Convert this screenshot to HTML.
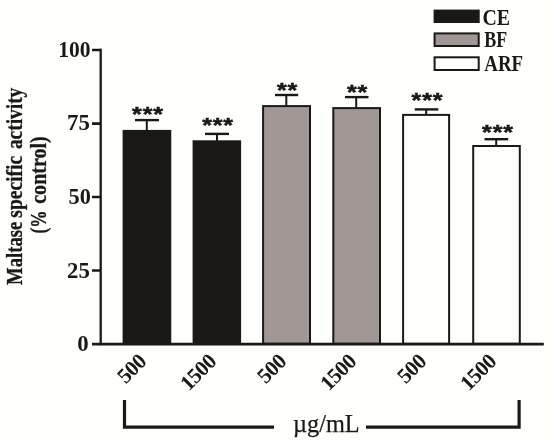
<!DOCTYPE html>
<html><head><meta charset="utf-8"><title>Maltase specific activity</title>
<style>
html,body{margin:0;padding:0;background:#fefefd;}
svg{display:block;}
text{font-family:"Liberation Serif","DejaVu Serif",serif;fill:#1b1915;}
.b{font-weight:bold;}
text.s{font-family:"Liberation Sans","DejaVu Sans",sans-serif;}
</style></head>
<body>
<svg width="550" height="442" viewBox="0 0 550 442">
<rect width="550" height="442" fill="#fefefd"/>
<!-- bars -->
<g stroke="#1b1915" stroke-width="2">
<rect x="123.6" y="130.9" width="46.65" height="212.9" fill="#1b1915"/>
<rect x="193.6" y="141.3" width="46.5" height="202.5" fill="#1b1915"/>
<rect x="263.1" y="106.1" width="46.9" height="237.7" fill="#a19896"/>
<rect x="333.3" y="108.1" width="46.7" height="235.7" fill="#a19896"/>
<rect x="403.1" y="114.9" width="46.0" height="228.9" fill="#fefefd"/>
<rect x="473.2" y="146.0" width="46.6" height="197.8" fill="#fefefd"/>
</g>
<!-- error bars -->
<g stroke="#1b1915" stroke-width="2" fill="none">
<path d="M146.8 131V120.1"/>
<path d="M217 141V133.9"/>
<path d="M286.3 106V95"/>
<path d="M356.2 108V97.1"/>
<path d="M426.2 115V109.4"/>
<path d="M496.2 146V139.2"/>
</g>
<g stroke="#1b1915" stroke-width="2.4" fill="none">
<path d="M135 120.1H159"/>
<path d="M205 133.9H229"/>
<path d="M275 95H298.2"/>
<path d="M345 97.1H368.5"/>
<path d="M414.8 109.4H438.3"/>
<path d="M484.5 139.2H508.2"/>
</g>
<!-- axes -->
<g stroke="#1b1915" stroke-width="2.3" fill="none">
<path d="M100.7 48.7V345"/>
<path d="M100 344.1H543.8" stroke-width="2.8"/>
</g>
<g stroke="#1b1915" stroke-width="2.7" fill="none">
<path d="M92 50H101M92 123.7H101M92 197H101M92 270.5H101M92 344.1H101"/>
</g>
<!-- y tick labels -->
<g class="b" font-size="23.4" text-anchor="end">
<text transform="translate(90.6,56.6) scale(0.955,1)" font-size="22.6">100</text>
<text transform="translate(89.8,130.2) scale(0.975,1)">75</text>
<text transform="translate(90.8,204.1) scale(0.975,1)" font-size="22.9">50</text>
<text transform="translate(89.9,277.5) scale(0.975,1)">25</text>
<text transform="translate(88.6,350.8) scale(0.975,1)">0</text>
</g>
<!-- stars -->
<g class="b" font-size="25" text-anchor="middle" stroke="#1b1915" stroke-width="0.6" letter-spacing="0.8">
<text class="s" transform="translate(147.9,121.2) scale(1,0.845)">***</text>
<text class="s" transform="translate(218.0,131.8) scale(1,0.845)">***</text>
<text class="s" transform="translate(287.4,97.1) scale(1,0.845)">**</text>
<text class="s" transform="translate(357.4,98.7) scale(1,0.845)">**</text>
<text class="s" transform="translate(427.4,107.2) scale(1,0.845)">***</text>
<text class="s" transform="translate(497.9,138.6) scale(1,0.845)">***</text>
</g>
<!-- x labels -->
<g class="b" font-size="21.6" text-anchor="end" letter-spacing="-0.6">
<text transform="translate(147.5,362.8) rotate(-45)">500</text>
<text transform="translate(217.5,362.8) rotate(-45)">1500</text>
<text transform="translate(287.5,362.8) rotate(-45)">500</text>
<text transform="translate(357.5,362.8) rotate(-45)">1500</text>
<text transform="translate(427.5,362.8) rotate(-45)">500</text>
<text transform="translate(497.5,362.8) rotate(-45)">1500</text>
</g>
<!-- y title -->
<g class="b" font-size="23" stroke="#1b1915" stroke-width="0.3">
<text transform="translate(22.3,285) rotate(-90)"><tspan x="0" textLength="63.4" lengthAdjust="spacingAndGlyphs">Maltase</tspan> <tspan x="67.3" textLength="61.8" lengthAdjust="spacingAndGlyphs">specific</tspan> <tspan x="135.9" textLength="61.4" lengthAdjust="spacingAndGlyphs">activity</tspan></text>
<text transform="translate(45.5,233.6) rotate(-90)"><tspan x="0" textLength="23" lengthAdjust="spacingAndGlyphs">(%</tspan> <tspan x="29.8" textLength="67.6" lengthAdjust="spacingAndGlyphs">control)</tspan></text>
</g>
<!-- bracket -->
<g stroke="#1b1915" stroke-width="3.2" fill="none">
<path d="M124.5 400V427.2H274"/>
<path d="M366 427.2H519.1V400"/>
</g>
<text x="293" y="431.6" font-size="24.3" stroke="#1b1915" stroke-width="0.25">µg/mL</text>
<!-- legend -->
<g stroke="#1b1915" stroke-width="2">
<rect x="434.6" y="10.6" width="44.1" height="11.4" fill="#1b1915"/>
<rect x="434.6" y="33.4" width="44.1" height="12.6" fill="#a19896"/>
<rect x="434.6" y="57.3" width="44.1" height="12.7" fill="#fefefd"/>
</g>
<g class="b" font-size="22.1">
<text transform="translate(482.5,24.5) scale(0.898,1)">CE</text>
<text transform="translate(484.2,46.7) scale(0.815,1)">BF</text>
<text transform="translate(484.2,70.8) scale(0.857,1)">ARF</text>
</g>
</svg>
</body></html>
